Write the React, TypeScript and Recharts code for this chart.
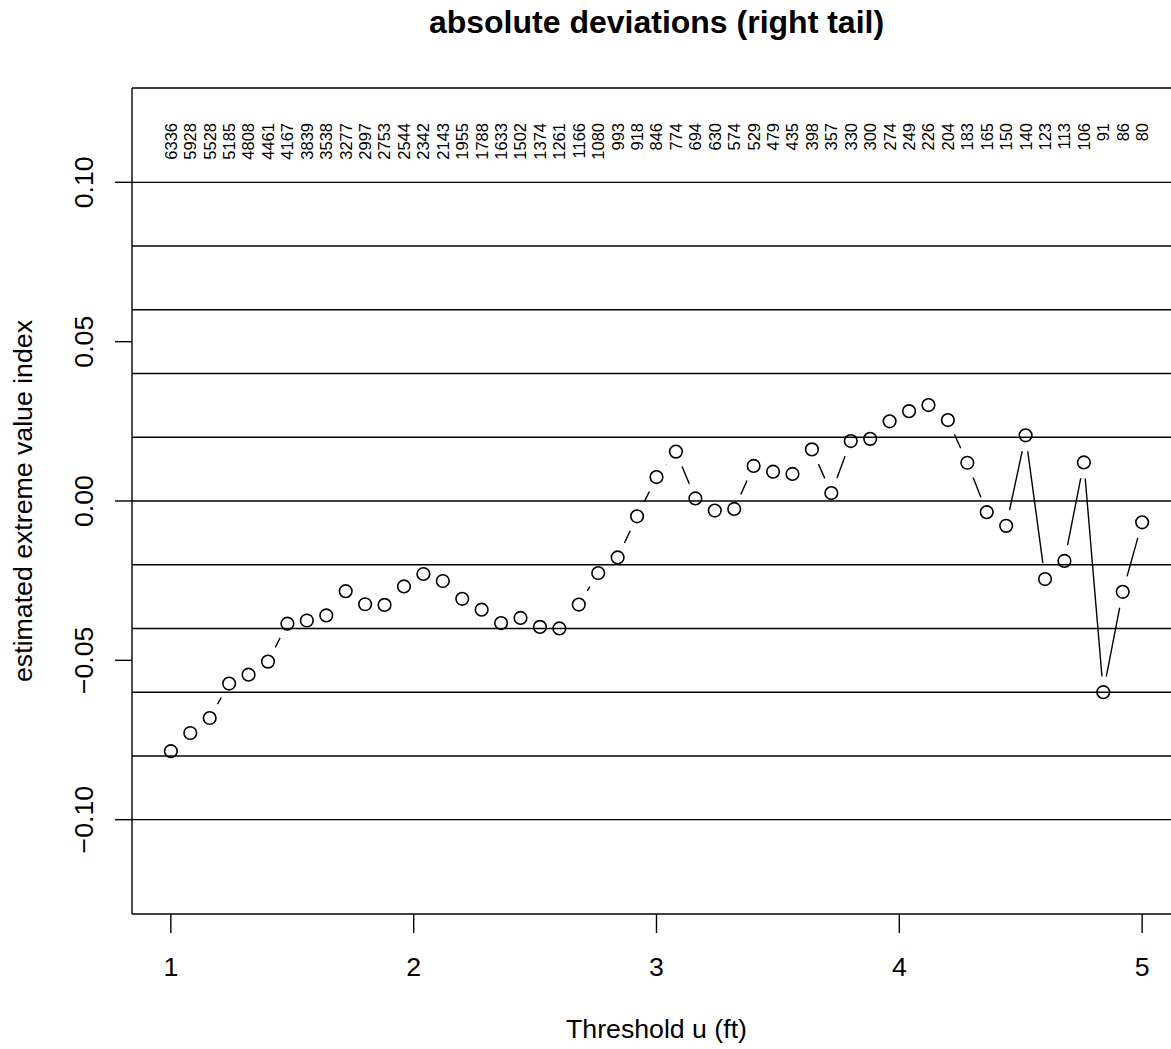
import { ComposedChart, Line, Scatter, XAxis, YAxis, ReferenceLine } from "recharts"

// threshold u (ft) and the estimated extreme value index at each
const thresholds = [
  1.0, 1.08, 1.16, 1.24, 1.32, 1.4, 1.48, 1.56, 1.64, 1.72, 1.8, 1.88, 1.96, 2.04, 2.12, 2.2, 2.28,
  2.36, 2.44, 2.52, 2.6, 2.68, 2.76, 2.84, 2.92, 3.0, 3.08, 3.16, 3.24, 3.32, 3.4, 3.48, 3.56, 3.64,
  3.72, 3.8, 3.88, 3.96, 4.04, 4.12, 4.2, 4.28, 4.36, 4.44, 4.52, 4.6, 4.68, 4.76, 4.84, 4.92, 5.0,
]

const xiHat = [
  -0.0785, -0.0728, -0.0681, -0.0573, -0.0545, -0.0504, -0.0385, -0.0375, -0.0359, -0.0283, -0.0324,
  -0.0326, -0.0268, -0.0229, -0.0251, -0.0307, -0.0341, -0.0383, -0.0367, -0.0395, -0.04, -0.0325,
  -0.0226, -0.0177, -0.0048, 0.0075, 0.0155, 0.0008, -0.003, -0.0025, 0.011, 0.0092, 0.0085, 0.0162,
  0.0025, 0.0188, 0.0195, 0.025, 0.0282, 0.0301, 0.0254, 0.012, -0.0035, -0.0078, 0.0206, -0.0245,
  -0.0188, 0.0121, -0.06, -0.0285, -0.0067,
]

// number of exceedances printed along the top
const exceedances = [
  6336, 5928, 5528, 5185, 4808, 4461, 4167, 3839, 3538, 3277, 2997, 2753, 2544, 2342, 2143, 1955, 1788,
  1633, 1502, 1374, 1261, 1166, 1080, 993, 918, 846, 774, 694, 630, 574, 529, 479, 435, 398, 357, 330,
  300, 274, 249, 226, 204, 183, 165, 150, 140, 123, 113, 106, 91, 86, 80,
]

const xTicks = [1, 2, 3, 4, 5]
const yTicks = [-0.1, -0.05, 0, 0.05, 0.1]
const hLines = [-0.1, -0.08, -0.06, -0.04, -0.02, 0, 0.02, 0.04, 0.06, 0.08, 0.1]

const data = thresholds.map((u, i) => ({ u, xi: xiHat[i] }))

const FONT = '"Liberation Sans", Arial, Helvetica, sans-serif'
const X_DOMAIN: [number, number] = [0.84, 5.16]
const Y_DOMAIN: [number, number] = [-0.1296, 0.1296]
const LW = 1.4

function fmtY(v: number) {
  if (v === 0) return "0.00"
  return (v < 0 ? "\u2212" : "") + Math.abs(v).toFixed(2)
}

function YTick({ x, y, payload }: any) {
  return (
    <text x={x} y={y} transform={`rotate(-90, ${x}, ${y})`} textAnchor="middle"
      fontFamily={FONT} fontSize={26.7} fill="#000">
      {fmtY(payload.value)}
    </text>
  )
}

function XTick({ x, y, payload }: any) {
  return (
    <text x={x} y={y} dy="0.71em" textAnchor="middle" fontFamily={FONT} fontSize={26.7} fill="#000">
      {payload.value}
    </text>
  )
}

function CountTick({ x, payload, index }: any) {
  let i = thresholds.findIndex((t) => Math.abs(t - payload.value) < 1e-6)
  if (i < 0) i = index
  const ty = 123
  return (
    <text x={x} y={ty} dy="0.36em" transform={`rotate(-90, ${x}, ${ty})`} textAnchor="end"
      fontFamily={FONT} fontSize={16.5} fill="#000">
      {exceedances[i]}
    </text>
  )
}

export default function App() {
  return (
    <div style={{ position: "absolute", left: 0, top: 0, width: 1171, height: 1049, overflow: "hidden", background: "#fff" }}>
      <div
        style={{
          position: "absolute", left: 0, top: 6, width: 1313, textAlign: "center",
          fontFamily: FONT, fontWeight: "bold", fontSize: 32, lineHeight: "32px", color: "#000",
        }}
      >
        absolute deviations (right tail)
      </div>
      <ComposedChart width={1200} height={1049} data={data} margin={{ top: 87, right: 19, bottom: 0, left: 0 }}>
        <XAxis
          dataKey="u"
          type="number"
          domain={X_DOMAIN}
          allowDataOverflow
          ticks={xTicks}
          interval={0}
          height={135}
          tickSize={19}
          tickMargin={24}
          tick={<XTick />}
          tickLine={{ stroke: "#000", strokeWidth: LW }}
          axisLine={{ stroke: "#000", strokeWidth: LW }}
          label={({ viewBox }: any) => {
            const vb = viewBox || { x: 132, y: 914, width: 1049 }
            return (
              <text x={vb.x + vb.width / 2} y={1038} textAnchor="middle" fontFamily={FONT} fontSize={26.7} fill="#000">
                Threshold u (ft)
              </text>
            )
          }}
        />
        <XAxis
          xAxisId="top"
          orientation="top"
          dataKey="u"
          type="number"
          domain={X_DOMAIN}
          allowDataOverflow
          ticks={thresholds}
          interval={0}
          height={1}
          tickSize={0}
          tickMargin={0}
          axisLine={false}
          tickLine={false}
          tick={<CountTick />}
        />
        <YAxis
          type="number"
          domain={Y_DOMAIN}
          allowDataOverflow
          ticks={yTicks}
          interval={0}
          width={132}
          tickSize={17}
          tickMargin={22}
          tick={<YTick />}
          tickLine={{ stroke: "#000", strokeWidth: LW }}
          axisLine={{ stroke: "#000", strokeWidth: LW }}
          label={({ viewBox }: any) => {
            const vb = viewBox || { y: 88, height: 826 }
            const cy = vb.y + vb.height / 2
            return (
              <text x={32} y={cy} transform={`rotate(-90, 32, ${cy})`} textAnchor="middle"
                fontFamily={FONT} fontSize={26.7} fill="#000">
                estimated extreme value index
              </text>
            )
          }}
        />
        {/* connecting lines; white discs open the gaps around each point */}
        <Line
          dataKey="xi"
          type="linear"
          stroke="#000"
          strokeWidth={LW}
          isAnimationActive={false}
          activeDot={false}
          dot={(p: any) => <circle key={`g${p.index}`} cx={p.cx} cy={p.cy} r={16} fill="#fff" stroke="none" />}
        />
        {hLines.map((v) => (
          <ReferenceLine key={v} y={v} stroke="#000" strokeWidth={LW} zIndex={700} />
        ))}
        <ReferenceLine y={Y_DOMAIN[1]} stroke="#000" strokeWidth={LW} zIndex={700} />
        <Scatter
          dataKey="xi"
          isAnimationActive={false}
          zIndex={800}
          shape={(p: any) => <circle cx={p.cx} cy={p.cy} r={6.3} fill="none" stroke="#000" strokeWidth={1.6} />}
        />
      </ComposedChart>
    </div>
  )
}
